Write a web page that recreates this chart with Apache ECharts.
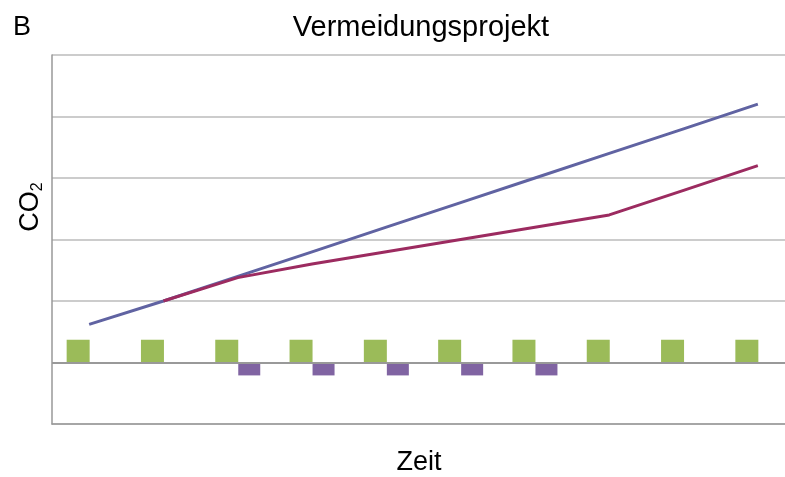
<!DOCTYPE html>
<html>
<head>
<meta charset="utf-8">
<script src="https://cdn.jsdelivr.net/npm/echarts@6/dist/echarts.min.js"></script>
<style>
  html, body { margin: 0; padding: 0; background: #fff; }
  #chart { width: 785px; height: 477px; }
</style>
</head>
<body>
<div id="chart"></div>
<script>
// Vermeidungsprojekt: baseline vs project emissions
const periods = ['1', '2', '3', '4', '5', '6', '7', '8', '9', '10'];
const baselineLine = [0.62, 1.0, 1.4, 1.8, 2.2, 2.6, 3.0, 3.4, 3.8, 4.2];
const projectLine = [null, 1.0, 1.38, 1.6, 1.8, 2.0, 2.2, 2.4, 2.8, 3.2];
const posBars = [0.37, 0.37, 0.37, 0.37, 0.37, 0.37, 0.37, 0.37, 0.37, 0.37];
const negBars = [null, null, -0.21, -0.21, -0.21, -0.21, -0.21, null, null, null];

const chart = echarts.init(document.getElementById('chart'));

const font = 'Liberation Sans, Arial, sans-serif';

const option = {
  backgroundColor: '#fff',
  animation: false,
  grid: { left: 52, top: 55, width: 743, height: 369, outerBoundsMode: 'none' },
  xAxis: {
    type: 'category',
    data: periods,
    axisLine: { onZero: false, lineStyle: { color: '#999', width: 1.5 } },
    axisTick: { show: false },
    axisLabel: { show: false },
    splitLine: { show: false }
  },
  yAxis: {
    type: 'value',
    min: -1,
    max: 5,
    interval: 1,
    axisLine: { show: true, lineStyle: { color: '#999', width: 1.5 } },
    axisTick: { show: false },
    axisLabel: { show: false },
    splitLine: { lineStyle: { color: '#bbb', width: 1.5 } }
  },
  graphic: [
    { type: 'text', left: 13, top: 14, style: { text: 'B', font: '27px ' + font, fill: '#000' } },
    { type: 'text', x: 421, y: 42, style: { text: 'Vermeidungsprojekt', font: '29px ' + font, fill: '#000', textAlign: 'center', textVerticalAlign: 'bottom' } },
    { type: 'text', x: 419, y: 476, style: { text: 'Zeit', font: '27px ' + font, fill: '#000', textAlign: 'center', textVerticalAlign: 'bottom' } },
    {
      type: 'text', x: 31, y: 207, rotation: Math.PI / 2,
      style: {
        text: 'CO{sub|2}',
        font: '27px ' + font,
        fill: '#000',
        align: 'center',
        verticalAlign: 'middle',
        rich: { sub: { fontSize: 16, fontFamily: font, padding: [13, 0, 0, 0] } }
      }
    }
  ],
  series: [
    {
      name: 'Projekt',
      type: 'bar',
      data: posBars,
      barWidth: 23,
      barGap: '0%',
      itemStyle: { color: '#9bbb59' },
      markLine: {
        silent: true,
        symbol: 'none',
        label: { show: false },
        lineStyle: { color: '#999', width: 2, type: 'solid' },
        data: [{ yAxis: 0 }]
      }
    },
    {
      name: 'Reduktion',
      type: 'bar',
      data: negBars,
      barWidth: 22,
      itemStyle: { color: '#8064a2' }
    },
    {
      name: 'Baseline',
      type: 'line',
      data: baselineLine,
      showSymbol: false,
      lineStyle: { color: '#6063a2', width: 3 },
      z: 3
    },
    {
      name: 'Projektemissionen',
      type: 'line',
      data: projectLine,
      showSymbol: false,
      lineStyle: { color: '#9c2b60', width: 3 },
      z: 4
    }
  ]
};

chart.setOption(option);
</script>
</body>
</html>
